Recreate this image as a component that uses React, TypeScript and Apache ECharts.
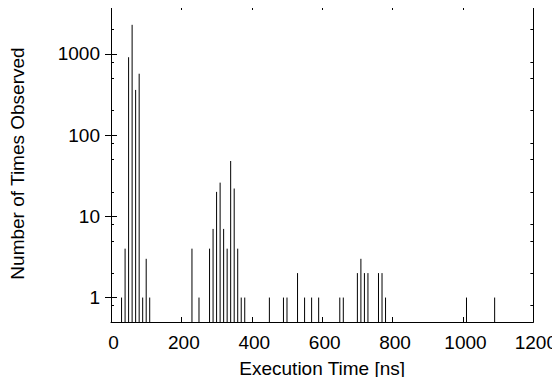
import React, { useEffect, useRef } from "react";
import * as echarts from "echarts";

const times = [30, 40, 50, 60, 70, 80, 90, 100, 110, 230, 250, 280, 290, 300, 310, 320, 330, 340, 350, 360, 370, 380, 450, 490, 500, 530, 550, 570, 590, 650, 660, 700, 710, 720, 730, 760, 770, 780, 1010, 1090];
const counts = [1, 4, 910, 2280, 360, 570, 1, 3, 1, 4, 1, 4, 7, 20, 26, 7, 4, 48, 22, 4, 1, 1, 1, 1, 1, 2, 1, 1, 1, 1, 1, 2, 3, 2, 2, 2, 2, 1, 1, 1];
const xTicks = [0, 200, 400, 600, 800, 1000, 1200];
const yMajor = [1, 10, 100, 1000];
const yMinor = [0.8, 2, 5, 8, 20, 50, 80, 200, 500, 800, 2000];

const FONT = "'Liberation Sans', Arial, Helvetica, sans-serif";
const FS = 19;
const Y_MIN = 0.5;
const Y_MAX = 4000;

export default function App() {
  const ref = useRef<HTMLDivElement>(null);
  useEffect(() => {
    if (!ref.current) return;
    const chart = echarts.init(ref.current, null, { renderer: "svg" });
    const line = { show: true, lineStyle: { color: "#000", width: 1 } };
    const fmt = (v: number) => String(Math.round(v * 1000) / 1000);
    const yBase = (position: string, ticks: number[], len: number, labels: boolean) => ({
      type: "log",
      logBase: 10,
      min: Y_MIN,
      max: Y_MAX,
      position,
      axisLine: line,
      splitLine: { show: false },
      minorTick: { show: false },
      axisTick: { show: true, inside: true, length: len, customValues: ticks, lineStyle: { color: "#000", width: 1 } },
      axisLabel: labels
        ? { show: true, customValues: yMajor, formatter: fmt, color: "#000", fontFamily: FONT, fontSize: FS, margin: 11 }
        : { show: false },
    });
    const xBase = (position: string, labels: boolean) => ({
      type: "value",
      min: 0,
      max: 1200,
      interval: 200,
      position,
      axisLine: line,
      splitLine: { show: false },
      axisTick: { show: true, inside: true, length: 5, customValues: xTicks, lineStyle: { color: "#000", width: 1 } },
      axisLabel: labels
        ? { show: true, formatter: fmt, color: "#000", fontFamily: FONT, fontSize: FS, margin: 11, padding: [0, 0, 0, 5] }
        : { show: false },
    });
    const x0: any = xBase("bottom", true);
    x0.name = "Execution Time [ns]";
    x0.nameLocation = "middle";
    x0.nameGap = 37;
    x0.nameTextStyle = { color: "#000", fontFamily: FONT, fontSize: FS };
    const y0: any = yBase("left", yMajor, 6, true);
    y0.name = "Number of Times Observed";
    y0.nameLocation = "middle";
    y0.nameGap = 84;
    y0.nameTextStyle = { color: "#000", fontFamily: FONT, fontSize: FS };
    const data = times.map((t, i) => [t, counts[i]]);
    chart.setOption({
      animation: false,
      backgroundColor: "#fff",
      grid: { left: 111, top: 5, width: 423, height: 317, containLabel: false },
      xAxis: [x0, xBase("top", false)],
      yAxis: [
        y0,
        yBase("right", yMajor, 6, false),
        yBase("left", yMinor, 3, false),
        yBase("right", yMinor, 3, false),
      ],
      series: [
        {
          type: "custom",
          xAxisIndex: 0,
          yAxisIndex: 0,
          encode: { x: 0, y: 1 },
          data,
          renderItem: (params: any, api: any) => {
            const x = api.value(0);
            const y = api.value(1);
            const top = api.coord([x, y]);
            const base = api.coord([x, Y_MIN]);
            return {
              type: "line",
              shape: { x1: top[0], y1: top[1], x2: base[0], y2: base[1] },
              style: { stroke: "#000", lineWidth: 1 },
            };
          },
        },
      ],
    });
    return () => chart.dispose();
  }, []);
  return <div ref={ref} style={{ width: 560, height: 385, margin: -8 }} />;
}
